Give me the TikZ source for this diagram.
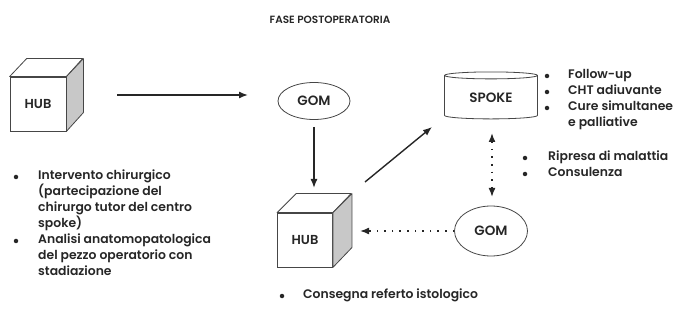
\documentclass[tikz,border=0pt]{standalone}
\usepackage{fontspec}
\setmainfont{Poppins SemiBold}
\usetikzlibrary{arrows.meta,positioning,calc,shapes.geometric}
\definecolor{PoInk}{RGB}{38,38,38}
\definecolor{PoLine}{RGB}{70,70,70}
\definecolor{PoSide}{RGB}{200,200,200}
\tikzset{
  po/cube/.style={
    draw=PoLine,
    thick,
    fill=white,
    text=PoInk,
    inner sep=0pt,
    font=\fontsize{13}{15}\selectfont,
    minimum width=56pt,
    minimum height=54pt
  },
  po/side/.style={draw=PoLine, thick, fill=PoSide, line join=round},
  po/top/.style={draw=PoLine, thick, fill=white, line join=round},
  po/gom/.style={
    ellipse,
    draw=PoLine,
    thick,
    text=PoInk,
    inner sep=0pt,
    font=\fontsize{13.5}{15}\selectfont
  },
  po/db/.style={
    cylinder,
    shape border rotate=90,
    aspect=0.14,
    draw=PoLine,
    thick,
    fill=white,
    text=PoInk,
    minimum height=47pt,
    minimum width=93pt,
    font=\fontsize{13.5}{15}\selectfont
  },
  po/list/.style={
    text=PoInk,
    align=left,
    inner sep=0pt,
    anchor=north west,
    font=\fontsize{12.4}{16}\selectfont
  },
  po/bullet/.style={circle, fill=PoInk, inner sep=0pt, minimum size=4.5pt},
  po/arrow/.style={-{Latex[length=9pt,width=7pt]}, line width=1.4pt, draw=PoInk},
  po/dotarrow/.style={-{Latex[length=9pt,width=7pt]}, line width=1.6pt, draw=PoInk,
    dash pattern=on 1.6pt off 6pt},
  po/title/.style={font=\fontsize{10.5}{12}\selectfont, text=PoInk}
}
\begin{document}
\begin{tikzpicture}[x=1pt,y=-1pt]
  \useasboundingbox (0,0) rectangle (683,331);
  \node[po/title] (title) at (330,20) {FASE POSTOPERATORIA};

  % hub in alto a sinistra
  \node[po/cube] (hubA) at (38,104) {HUB};
  \draw[po/top] (hubA.north west) -- ++(17,-18) -- ++(56,0) -- (hubA.north east) -- cycle;
  \draw[po/side] (hubA.north east) -- ++(17,-18) -- ++(0,54) -- (hubA.south east) -- cycle;

  % gom e spoke
  \node[po/gom,minimum width=72pt,minimum height=37pt] (gomA) at (314,101) {GOM};
  \node[po/db] (spoke) at (491,98) {\raisebox{-5pt}{SPOKE}};

  % hub in basso
  \node[po/cube,minimum width=55pt] (hubB) at (305,240) {HUB};
  \draw[po/top] (hubB.north west) -- ++(19,-19) -- ++(55,0) -- (hubB.north east) -- cycle;
  \draw[po/side] (hubB.north east) -- ++(19,-19) -- ++(0,54) -- (hubB.south east) -- cycle;

  \node[po/gom,minimum width=73pt,minimum height=50pt] (gomB) at (491,231) {GOM};

  % frecce
  \coordinate (aS) at (117,95);
  \coordinate (aE) at (248,95);
  \draw[po/arrow] (aS) -- (aE);
  \draw[po/arrow] (gomA.south) ++(0,7) coordinate (dS) -- (dS |- 0,188) coordinate (dE);
  \coordinate (uS) at (365,182);
  \coordinate (uE) at (432,127);
  \draw[po/arrow] (uS) -- (uE);
  \coordinate (vT) at (492,133);
  \coordinate (vB) at (492,197);
  \draw[po/dotarrow,{Latex[length=9pt,width=7pt]}-{Latex[length=9pt,width=7pt]}] (vT) -- (vB);
  \coordinate (hE) at (360,231);
  \draw[po/dotarrow] (gomB.west) -- (hE);

  % elenchi
  \node[po/list] (listA) at (38,170) {Intervento chirurgico\\(partecipazione del\\chirurgo tutor del centro\\spoke)};
  \node[po/list] (listB) at (38,234) {Analisi anatomopatologica\\del pezzo operatorio con\\stadiazione};
  \node[po/bullet] (bA) at (16,177) {};
  \node[po/bullet] (bB) at (16,241) {};

  \node[po/list] (listC) at (568,69) {Follow-up\\CHT adiuvante\\Cure simultanee\\e palliative};
  \foreach \n/\y in {c1/76,c2/92,c3/108}
    {\node[po/bullet] (\n) at (547,\y) {};}

  \node[po/list] (listD) at (548,151) {Ripresa di malattia\\Consulenza};
  \node[po/bullet] (d1) at (525,158) {};
  \node[po/bullet] (d2) at (525,174) {};

  \node[po/list] (listE) at (303,289) {Consegna referto istologico};
  \node[po/bullet] (e1) at (282,296) {};
\end{tikzpicture}
\end{document}
